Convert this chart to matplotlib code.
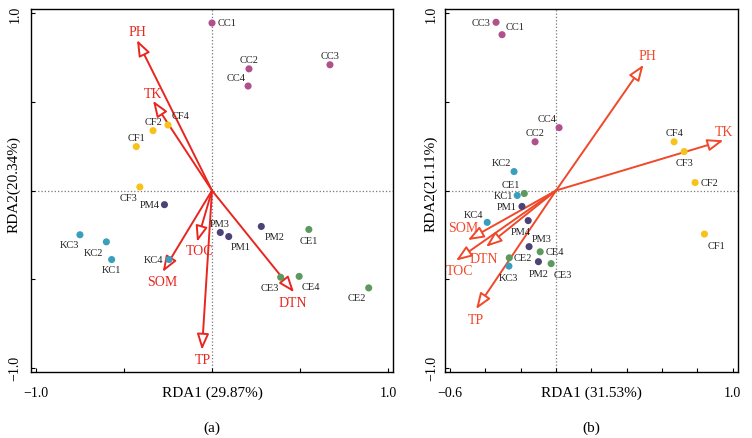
import matplotlib
matplotlib.use("Agg")
import matplotlib.pyplot as plt

plt.rcParams['font.family'] = ['Liberation Serif', 'DejaVu Serif']

# ---- data: sample scores (a)
samples_a = ['CC1', 'CC2', 'CC3', 'CC4', 'CF1', 'CF2', 'CF3', 'CF4',
             'PM1', 'PM2', 'PM3', 'PM4', 'KC1', 'KC2', 'KC3', 'KC4',
             'CE1', 'CE2', 'CE3', 'CE4']
x_a = [0.00, 0.21, 0.67, 0.205, -0.43, -0.335, -0.41, -0.25,
       0.095, 0.28, 0.047, -0.27, -0.57, -0.60, -0.75, -0.244,
       0.55, 0.89, 0.39, 0.495]
y_a = [0.946, 0.687, 0.71, 0.59, 0.248, 0.338, 0.02, 0.37,
       -0.26, -0.203, -0.237, -0.08, -0.39, -0.29, -0.25, -0.39,
       -0.22, -0.55, -0.49, -0.485]

# env arrows (a)
env_a = ['PH', 'TK', 'TOC', 'SOM', 'TP', 'DTN']
ex_a = [-0.426, -0.335, -0.085, -0.28, -0.057, 0.466]
ey_a = [0.85, 0.507, -0.29, -0.46, -0.90, -0.575]

# ---- data: sample scores (b)
samples_b = ['CC1', 'CC2', 'CC3', 'CC4', 'CF1', 'CF2', 'CF3', 'CF4',
             'PM1', 'PM2', 'PM3', 'PM4', 'KC1', 'KC2', 'KC3', 'KC4',
             'CE1', 'CE2', 'CE3', 'CE4']
x_b = [-0.306, -0.119, -0.34, 0.017, 0.84, 0.787, 0.725, 0.668,
       -0.193, -0.10, -0.153, -0.158, -0.22, -0.238, -0.267, -0.39,
       -0.18, -0.265, -0.028, -0.09]
y_b = [0.88, 0.275, 0.95, 0.355, -0.246, 0.045, 0.22, 0.275,
       -0.09, -0.402, -0.317, -0.17, -0.028, 0.107, -0.427, -0.18,
       -0.017, -0.38, -0.413, -0.346]

env_b = ['PH', 'TK', 'SOM', 'DTN', 'TOC', 'TP']
ex_b = [0.495, 0.948, -0.50, -0.397, -0.567, -0.453]
ey_b = [0.71, 0.283, -0.28, -0.318, -0.396, -0.67]

group_colors = {'CC': '#b0508c', 'CF': '#f7c21a', 'PM': '#4b4277',
                'KC': '#3a9fbc', 'CE': '#5b9a5e'}

# label offsets in pixels (dx, dy)
lab_off_a = {'CC1': (15, 0), 'CC2': (0, 9), 'CC3': (0, 9), 'CC4': (-12, 9),
             'CF1': (0, 9), 'CF2': (0, 9), 'CF3': (-11, -11), 'CF4': (13, 9),
             'PM1': (12, -10), 'PM2': (13, -10), 'PM3': (-1, 9), 'PM4': (-15, 0),
             'KC1': (0, -10), 'KC2': (-13, -11), 'KC3': (-11, -10), 'KC4': (-16, 0),
             'CE1': (0, -11), 'CE2': (-12, -10), 'CE3': (-11, -10), 'CE4': (12, -10)}
env_off_a = {'PH': (0, 8), 'TK': (0, 7), 'TOC': (3, -9), 'SOM': (0, -10),
             'TP': (1, -10), 'DTN': (-1, -10)}

lab_off_b = {'CC1': (13, 8), 'CC2': (0, 9), 'CC3': (-15, 0), 'CC4': (-12, 9),
             'CF1': (12, -11), 'CF2': (14, 0), 'CF3': (0, -11), 'CF4': (0, 9),
             'PM1': (-15, 0), 'PM2': (0, -12), 'PM3': (13, 8), 'PM4': (-7, -11),
             'KC1': (-14, 0), 'KC2': (-13, 9), 'KC3': (0, -11), 'KC4': (-14, 8),
             'CE1': (-13, 9), 'CE2': (14, 0), 'CE3': (12, -11), 'CE4': (15, 0)}
env_off_b = {'PH': (4, 9), 'TK': (0, 9), 'SOM': (-5, 13), 'DTN': (-2, -12),
             'TOC': (4, -10), 'TP': (0, -10)}


def draw_panel(ax, names, xs, ys, envs, exs, eys, lab_off, env_off,
               arrow_color, xlim, xticks, xlabels, xlabel, ylabel, caption,
               ypad_px):
    ax.axhline(0, color='#777777', ls=':', lw=0.9, zorder=1)
    ax.axvline(0, color='#777777', ls=':', lw=0.9, zorder=1)

    for ename, ex, ey in zip(envs, exs, eys):
        ax.annotate('', xy=(ex, ey), xytext=(0, 0),
                    arrowprops=dict(arrowstyle='-|>,head_length=0.8,head_width=0.3',
                                    color=arrow_color, fc='white', lw=1.4,
                                    shrinkA=0, shrinkB=0, mutation_scale=12),
                    zorder=2)
        dx, dy = env_off[ename]
        ax.annotate(ename, xy=(ex, ey), xytext=(dx, dy), textcoords='offset pixels',
                    ha='center', va='center', color=arrow_color, fontsize=10)

    for name, x, y in zip(names, xs, ys):
        ax.scatter(x, y, s=26, color=group_colors[name[:2]], zorder=3,
                   edgecolors='none')
        dx, dy = lab_off[name]
        ax.annotate(name, xy=(x, y), xytext=(dx, dy), textcoords='offset pixels',
                    ha='center', va='center', fontsize=7.5, color='#222222')

    ax.set_xlim(*xlim)
    ax.set_ylim(-1.025, 1.025)
    ax.set_xticks(xticks)
    ax.set_xticklabels(xlabels)
    ax.set_yticks([-1.0, -0.5, 0, 0.5, 1.0])
    ax.set_yticklabels(['\u22121.0', '', '', '', '1.0'], rotation=90, va='center')
    ax.tick_params(direction='in', length=3, width=0.8, labelsize=10)
    ax.tick_params(axis='x', pad=10)
    ax.tick_params(axis='y', pad=ypad_px)
    for sp in ax.spines.values():
        sp.set_linewidth(1.0)

    # axis titles sit level with the end tick labels
    h = ax.bbox.height
    w = ax.bbox.width
    ax.text(0.5, -20 / h, xlabel, transform=ax.transAxes, ha='center',
            va='center', fontsize=11)
    ax.text(-(ypad_px / 0.72 + 7) / w, 0.52, ylabel, transform=ax.transAxes,
            ha='center', va='center', rotation=90, fontsize=11)
    ax.text(0.5, -55 / h, caption, transform=ax.transAxes, ha='center',
            va='center', fontsize=11)


fig = plt.figure(figsize=(7.52, 4.39), dpi=100)
ax1 = fig.add_axes([31 / 752, 66 / 439, 362 / 752, 363 / 439])
ax2 = fig.add_axes([445 / 752, 66 / 439, 293 / 752, 363 / 439])

draw_panel(ax1, samples_a, x_a, y_a, env_a, ex_a, ey_a, lab_off_a, env_off_a,
           '#e8261f', (-1.028, 1.028), [-1.0, -0.5, 0, 0.5, 1.0],
           ['\u22121.0', '', '', '', '1.0'],
           'RDA1 (29.87%)', 'RDA2(20.34%)', '(a)', 7)

draw_panel(ax2, samples_b, x_b, y_b, env_b, ex_b, ey_b, lab_off_b, env_off_b,
           '#f0482a', (-0.629, 1.03),
           [-0.6, -0.4, -0.2, 0, 0.2, 0.4, 0.6, 0.8, 1.0],
           ['\u22120.6', '', '', '', '', '', '', '', '1.0'],
           'RDA1 (31.53%)', 'RDA2(21.11%)', '(b)', 5)

fig.savefig('out.png', dpi=100)
